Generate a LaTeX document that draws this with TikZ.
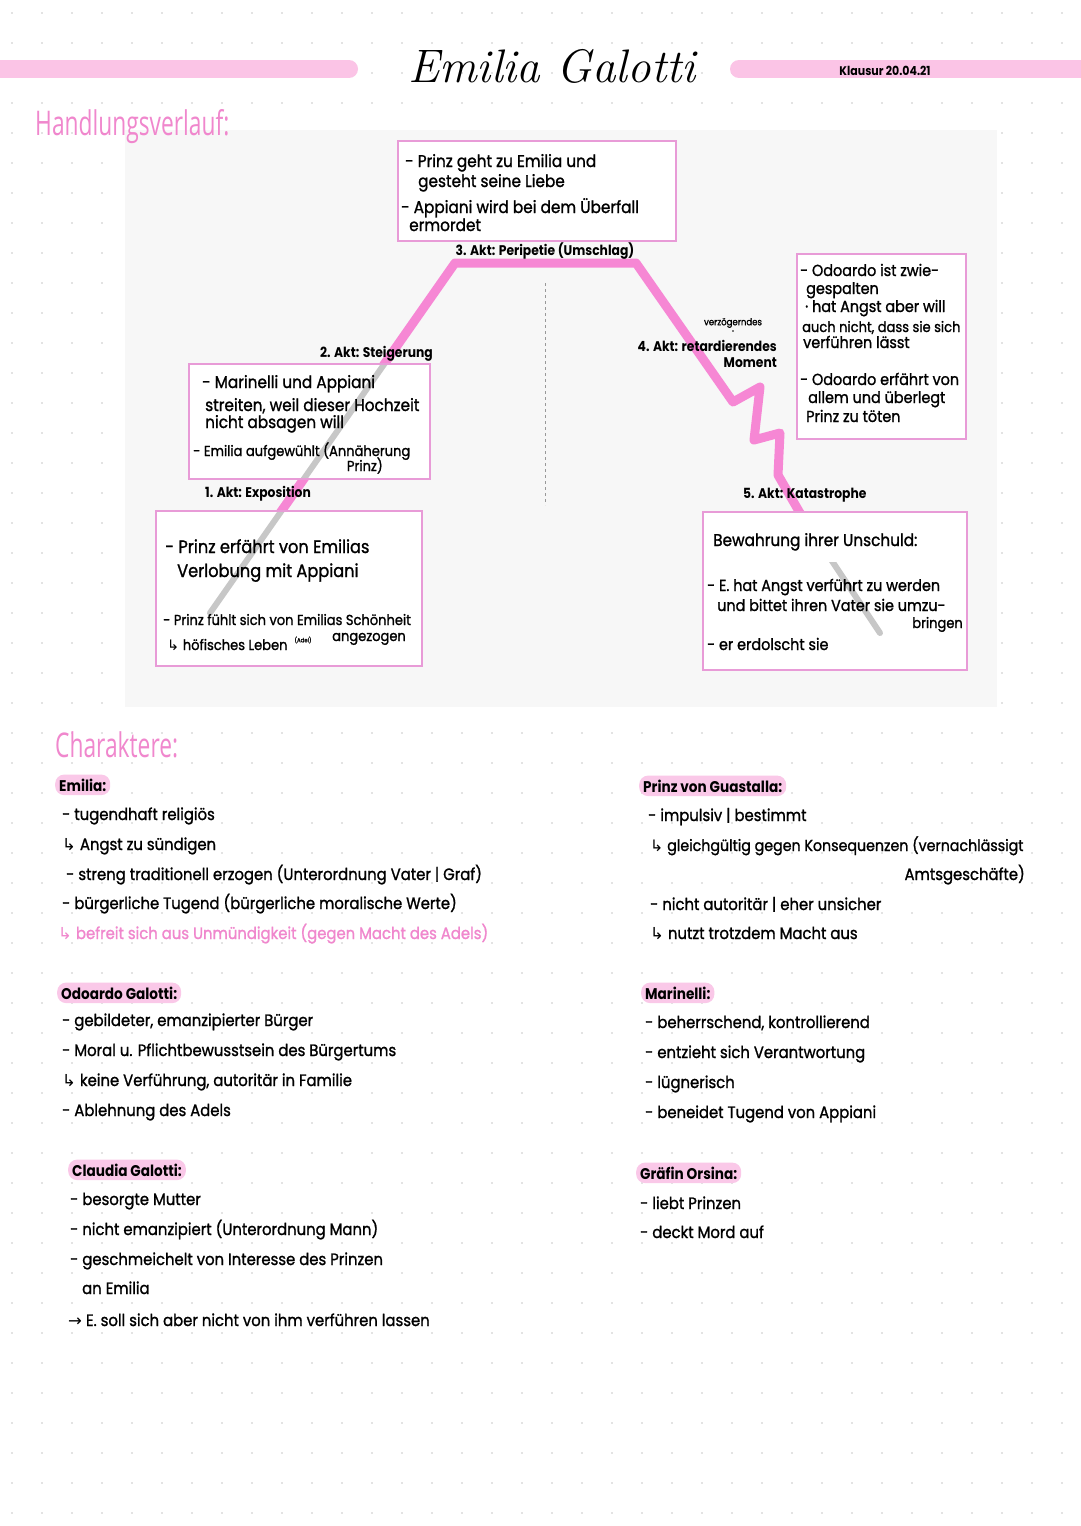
\documentclass[tikz,border=0pt]{standalone}
\usepackage{fontspec}
\newfontfamily\handfont{Poppins}[FakeStretch=0.9, FakeBold=1.2]
\newfontfamily\labelfont{Poppins}[FakeStretch=0.88]
\newfontfamily\thinfont{Open Sans}[FakeStretch=0.67]
\newfontfamily\symfont{DejaVu Sans}
\newcommand\hookarr{{\symfont\char"21B3}}
\newcommand\rarr{{\symfont\char"2192}}
\definecolor{barpink}{RGB}{251,196,230}
\definecolor{headpink}{RGB}{240,135,205}
\definecolor{linepink}{RGB}{246,135,212}
\definecolor{boxpink}{RGB}{232,155,215}
\definecolor{pillpink}{RGB}{250,200,232}
\definecolor{dotgray}{RGB}{200,200,200}

\begin{document}
\begin{tikzpicture}[
    x=1pt, y=-1pt,
    hand/.style={font=\handfont\fontsize{16.5}{18}\selectfont, anchor=base west, inner sep=0pt},
    boxtext/.style={font=\handfont\fontsize{17}{19}\selectfont, anchor=base west, inner sep=0pt},
    large text/.style={boxtext, font=\handfont\fontsize{18}{20}\selectfont},
    mid text/.style={boxtext, font=\handfont\fontsize{16}{18}\selectfont},
    tight text/.style={boxtext, font=\handfont\fontsize{14.5}{16}\selectfont},
    act label/.style={font=\labelfont\bfseries\fontsize{14}{16}\selectfont, inner sep=0pt},
    eventbox/.style={draw=boxpink, line width=1.6pt, fill=white, anchor=north west, inner sep=0pt},
    pill/.style={hand, fill=pillpink, rounded corners=9pt, inner xsep=4pt, inner ysep=4pt, font=\labelfont\bfseries\fontsize{15.5}{17}\selectfont},
    heading/.style={font=\thinfont\fontsize{34}{36}\selectfont, text=headpink, anchor=west, inner sep=0pt},
    plot line/.style={linepink, line width=9pt, line join=round, line cap=round},
    hidden line/.style={black!22, line width=6pt, line cap=round}
]

    % === Page ===
    \useasboundingbox (0,0) rectangle (1080,1526);
    \fill[white] (0,0) rectangle (1080,1526);
    \foreach \i in {0,...,35}
        \foreach \j in {0,...,50}
            \fill[dotgray] (12+30*\i,13+30*\j) circle (0.9);
    \fill[black!3] (125,130) rectangle (997,707);

    % === Header ===
    \draw[barpink, line width=18pt, line cap=round] (-20,69) -- (349,69);
    \draw[barpink, line width=18pt, line cap=round] (739,69) -- (1100,69);
    \node[font=\rmfamily\itshape\fontsize{47}{50}\selectfont] (title) at (552,66) {Emilia Galotti};
    \node[act label, font=\labelfont\bfseries\fontsize{12.5}{14}\selectfont] (exam) at (885,71) {Klausur 20.04.21};
    \node[heading] (plot) at (35,127) {Handlungsverlauf:};

    % === Plot curve ===
    \coordinate (p0) at (210,613);
    \coordinate (p1) at (455,263);
    \coordinate (p2) at (636,263);
    \coordinate (p3) at (733,402);
    \coordinate (p4) at (760,387);
    \coordinate (p5) at (754,440);
    \coordinate (p6) at (780,433);
    \coordinate (p7) at (778,475);
    \coordinate (p8) at (800,513);
    \coordinate (p9) at (880,633);
    \draw[black!40, dashed, thin] (545,283) -- (545,505);
    \draw[plot line] (p0) -- (p1) -- (p2) -- (p3) -- (p4) -- (p5) -- (p6) -- (p7) -- (p8) -- (p9);

    % === Boxes ===
    \node[eventbox, minimum width=278, minimum height=100] (peri) at (397,140) {};
    \node[eventbox, minimum width=241, minimum height=115] (steig) at (188,363) {};
    \node[eventbox, minimum width=266, minimum height=155] (expo) at (155,510) {};
    \node[eventbox, minimum width=169, minimum height=185] (retard) at (796,253) {};
    \node[eventbox, minimum width=264, minimum height=158] (kata) at (702,511) {};

    % line seen through the paper
    \begin{scope}
        \clip ([shift={(2,2)}]steig.north west) rectangle ([shift={(-2,-2)}]steig.south east);
        \draw[hidden line] (p0) -- (p1);
    \end{scope}
    \begin{scope}
        \clip ([shift={(2,2)}]expo.north west) rectangle ([shift={(-2,-2)}]expo.south east);
        \draw[hidden line] (p0) -- (p1);
    \end{scope}
    \begin{scope}
        \clip (702,562) rectangle (966,667);
        \draw[hidden line] (p8) -- (p9);
    \end{scope}

    % === Act labels ===
    \node[act label, anchor=base] (act3) at (545,255) {3. Akt: Peripetie (Umschlag)};
    \node[act label, anchor=base east] (act2) at (433,357) {2. Akt: Steigerung};
    \node[act label, anchor=base west] (act1) at (205,497) {1. Akt: Exposition};
    \node[act label, anchor=base east] (act4) at (777,351) {4. Akt: retardierendes};
    \node[act label, anchor=base east] (act4b) at (777,367) {Moment};
    \node[font=\handfont\fontsize{9.5}{10}\selectfont, inner sep=0pt] (delay) at (733,323) {verzögerndes};
    \fill (733,331) circle (0.9);
    \node[act label, anchor=base west] (act5) at (743,498) {5. Akt: Katastrophe};

    % === Box texts ===
    \node[boxtext] (peri-a) at (405,167) {- Prinz geht zu Emilia und};
    \node[boxtext] (peri-b) at (418,187) {gesteht seine Liebe};
    \node[boxtext] (peri-c) at (401,213) {- Appiani wird bei dem Überfall};
    \node[boxtext] (peri-d) at (409,231) {ermordet};

    \node[boxtext] (steig-a) at (202,388) {- Marinelli und Appiani};
    \node[boxtext] (steig-b) at (205,411) {streiten, weil dieser Hochzeit};
    \node[boxtext] (steig-c) at (205,428) {nicht absagen will};
    \node[tight text] (steig-d) at (193,456) {- Emilia aufgewühlt (Annäherung};
    \node[tight text, anchor=base east] (steig-e) at (383,471) {Prinz)};

    \node[large text] (expo-a) at (165,553) {- Prinz erfährt von Emilias};
    \node[large text] (expo-b) at (177,577) {Verlobung mit Appiani};
    \node[tight text] (expo-c) at (163,625) {- Prinz fühlt sich von Emilias Schönheit};
    \node[tight text] (expo-d) at (167,650) {\hookarr\ höfisches Leben};
    \node[font=\handfont\fontsize{6}{7}\selectfont, inner sep=0pt] (expo-e) at (303,640) {(Adel)};
    \node[tight text] (expo-f) at (332,641) {angezogen};

    \node[mid text] (retard-a) at (800,276) {- Odoardo ist zwie-};
    \node[mid text] (retard-b) at (806,294) {gespalten};
    \node[mid text] (retard-c) at (805,312) {· hat Angst aber will};
    \node[tight text] (retard-d) at (802,332) {auch nicht, dass sie sich};
    \node[mid text] (retard-e) at (803,348) {verführen lässt};
    \node[mid text] (retard-f) at (800,385) {- Odoardo erfährt von};
    \node[mid text] (retard-g) at (808,403) {allem und überlegt};
    \node[mid text] (retard-h) at (806,422) {Prinz zu töten};

    \node[boxtext] (kata-a) at (713,546) {Bewahrung ihrer Unschuld:};
    \node[mid text] (kata-b) at (707,591) {- E. hat Angst verführt zu werden};
    \node[mid text] (kata-c) at (717,611) {und bittet ihren Vater sie umzu-};
    \node[tight text, anchor=base east] (kata-d) at (963,628) {bringen};
    \node[mid text] (kata-e) at (707,650) {- er erdolscht sie};

    % === Characters ===
    \node[heading] (cast) at (55,745) {Charaktere:};

    \node[pill] (emilia) at (55,791) {Emilia:};
    \foreach \x/\y/\t [count=\i] in {
        62/820/{- tugendhaft religiös},
        62/850/{\hookarr\ Angst zu sündigen},
        66/880/{- streng traditionell erzogen (Unterordnung Vater | Graf)},
        62/909/{- bürgerliche Tugend (bürgerliche moralische Werte)}}
        \node[hand] (emilia-\i) at (\x,\y) {\t};
    \node[hand, text=headpink] (emilia-5) at (58,939) {\hookarr\ befreit sich aus Unmündigkeit (gegen Macht des Adels)};

    \node[pill] (odoardo) at (57,999) {Odoardo Galotti:};
    \foreach \y/\t [count=\i] in {
        1026/{- gebildeter, emanzipierter Bürger},
        1056/{- Moral u. Pflichtbewusstsein des Bürgertums},
        1086/{\hookarr\ keine Verführung, autoritär in Familie},
        1116/{- Ablehnung des Adels}}
        \node[hand] (odoardo-\i) at (62,\y) {\t};

    \node[pill] (claudia) at (68,1176) {Claudia Galotti:};
    \foreach \x/\y/\t [count=\i] in {
        70/1205/{- besorgte Mutter},
        70/1235/{- nicht emanzipiert (Unterordnung Mann)},
        70/1265/{- geschmeichelt von Interesse des Prinzen},
        82/1294/{an Emilia},
        68/1326/{\rarr\ E. soll sich aber nicht von ihm verführen lassen}}
        \node[hand] (claudia-\i) at (\x,\y) {\t};

    \node[pill] (prinz) at (639,792) {Prinz von Guastalla:};
    \foreach \x/\y/\t [count=\i] in {
        648/821/{- impulsiv | bestimmt},
        650/910/{- nicht autoritär | eher unsicher},
        650/939/{\hookarr\ nutzt trotzdem Macht aus}}
        \node[hand] (prinz-\i) at (\x,\y) {\t};
    \node[hand, font=\handfont\fontsize{15.8}{18}\selectfont] (prinz-4) at (650,851) {\hookarr\ gleichgültig gegen Konsequenzen (vernachlässigt};
    \node[hand, anchor=base east] (prinz-5) at (1025,880) {Amtsgeschäfte)};

    \node[pill] (marinelli) at (641,999) {Marinelli:};
    \foreach \y/\t [count=\i] in {
        1028/{- beherrschend, kontrollierend},
        1058/{- entzieht sich Verantwortung},
        1088/{- lügnerisch},
        1118/{- beneidet Tugend von Appiani}}
        \node[hand] (marinelli-\i) at (645,\y) {\t};

    \node[pill] (orsina) at (636,1179) {Gräfin Orsina:};
    \foreach \y/\t [count=\i] in {
        1209/{- liebt Prinzen},
        1238/{- deckt Mord auf}}
        \node[hand] (orsina-\i) at (640,\y) {\t};

\end{tikzpicture}
\end{document}
